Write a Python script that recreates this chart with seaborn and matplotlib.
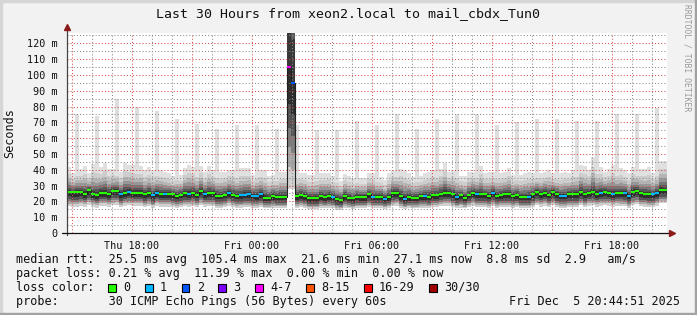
import numpy as np
import pandas as pd
import seaborn as sns
import matplotlib
matplotlib.use("Agg")
import matplotlib.pyplot as plt
import matplotlib.dates as mdates
from matplotlib.ticker import MultipleLocator, FuncFormatter
from matplotlib.patches import Rectangle
from matplotlib.lines import Line2D
from datetime import datetime, timedelta

# ---------------- data ----------------
title = "Last 30 Hours from xeon2.local to mail_cbdx_Tun0"
end_time = datetime(2025, 12, 5, 20, 44, 51)
span_hours = 30
step_minutes = 12

# median rtt per 12-minute step (ms)
median_ms = [
    25.7, 25.7, 25.7, 25.7, 24.8, 27.0, 24.6, 24.2, 25.5, 25.5,
    24.8, 26.3, 26.7, 24.4, 25.5, 26.1, 25.5, 25.5, 25.5, 24.4,
    25.3, 23.8, 25.5, 24.6, 24.8, 24.6, 24.4, 23.5, 24.2, 25.1,
    24.8, 25.3, 24.2, 26.3, 24.6, 25.1, 25.1, 23.5, 23.5, 24.2,
    25.5, 24.2, 23.5, 23.8, 24.2, 24.4, 23.5, 23.3, 24.4, 22.4,
    22.3, 23.3, 22.9, 22.9, 22.9, 105.0, 95.0, 23.3, 24.0, 23.3,
    21.9, 21.9, 21.9, 23.1, 22.7, 23.1, 22.9, 21.5, 21.0, 23.1,
    22.3, 21.9, 22.9, 22.7, 22.7, 24.4, 22.9, 22.9, 22.9, 21.7,
    22.7, 25.1, 25.5, 23.3, 21.7, 22.7, 22.3, 22.3, 23.3, 23.3,
    22.9, 24.0, 24.0, 24.8, 25.5, 25.5, 24.4, 22.9, 23.8, 22.3,
    24.2, 25.5, 24.4, 24.4, 24.4, 23.5, 25.1, 23.5, 24.0, 24.4,
    24.4, 23.5, 24.0, 22.9, 22.9, 22.9, 24.4, 25.9, 24.8, 25.5,
    24.2, 25.9, 24.4, 23.5, 23.5, 24.4, 24.4, 24.4, 25.9, 24.4,
    25.5, 25.9, 24.8, 25.5, 25.9, 25.5, 24.8, 25.5, 25.3, 25.1,
    23.5, 26.1, 26.7, 25.1, 24.8, 24.4, 24.4, 25.5, 27.2, 27.1,
]

# loss class per step (index into loss_labels)
loss_class = [
    0, 0, 0, 0, 0, 0, 0, 0, 0, 0,
    0, 0, 0, 1, 0, 1, 0, 0, 0, 0,
    0, 1, 1, 0, 1, 0, 0, 0, 0, 0,
    1, 0, 0, 0, 1, 0, 0, 0, 0, 0,
    1, 0, 0, 1, 1, 1, 1, 1, 1, 0,
    0, 0, 0, 0, 0, 4, 2, 0, 0, 0,
    0, 0, 0, 0, 0, 0, 1, 0, 0, 0,
    0, 0, 0, 0, 0, 0, 1, 0, 0, 1,
    0, 0, 0, 0, 1, 0, 0, 0, 0, 1,
    0, 0, 0, 0, 0, 0, 0, 1, 0, 0,
    0, 0, 1, 0, 0, 0, 1, 0, 0, 0,
    0, 0, 0, 0, 0, 1, 0, 0, 0, 0,
    0, 0, 0, 1, 1, 0, 0, 0, 0, 0,
    0, 0, 0, 1, 0, 0, 1, 0, 0, 1,
    1, 0, 0, 0, 0, 0, 1, 1, 0, 0,
]

# upper edge of the smoke per step (ms); 400 = off scale
smoke_high = [
    41.5, 37.7, 40.0, 40.4, 42.3, 37.7, 43.6, 43.0, 41.9, 44.4,
    40.4, 40.4, 40.0, 38.7, 44.4, 43.0, 43.0, 42.0, 42.3, 39.8,
    41.5, 39.8, 40.0, 39.8, 38.7, 38.1, 36.0, 37.0, 36.6, 40.8,
    43.0, 41.9, 40.0, 42.3, 38.7, 42.3, 39.8, 39.0, 38.7, 38.7,
    39.8, 39.8, 39.0, 40.8, 40.8, 40.8, 36.6, 39.0, 39.8, 39.8,
    36.0, 36.6, 37.0, 38.7, 38.7, 400.0, 400.0, 38.0, 37.7, 37.7,
    36.6, 36.6, 37.0, 37.7, 38.1, 38.1, 36.0, 36.0, 33.1, 37.2,
    36.0, 34.5, 35.0, 34.5, 34.5, 37.7, 37.7, 36.0, 35.2, 33.5,
    37.7, 39.4, 39.0, 40.6, 39.8, 37.7, 35.2, 36.0, 36.0, 37.7,
    38.7, 39.8, 39.0, 40.6, 44.4, 38.7, 39.8, 39.0, 36.0, 36.0,
    38.7, 38.7, 39.0, 42.3, 37.7, 38.7, 38.7, 38.0, 38.1, 38.7,
    40.8, 36.6, 37.0, 36.6, 37.7, 38.7, 38.1, 38.0, 37.7, 38.7,
    39.8, 37.7, 38.0, 37.7, 38.7, 38.1, 39.4, 40.0, 43.0, 42.3,
    39.8, 48.2, 42.0, 41.9, 38.7, 40.2, 43.0, 40.0, 40.8, 39.8,
    37.7, 41.9, 40.0, 40.2, 40.2, 41.5, 37.7, 40.0, 45.6, 45.6,
]

# lower edge of the smoke per step (ms)
smoke_low = [
    17.0, 16.6, 16.6, 17.2, 16.6, 17.7, 16.6, 16.0, 17.2, 17.2,
    16.6, 17.7, 17.7, 16.6, 17.2, 17.7, 17.2, 17.2, 17.2, 16.6,
    17.2, 16.0, 17.2, 16.6, 16.6, 16.6, 16.6, 16.0, 16.6, 17.2,
    16.6, 17.2, 16.6, 17.7, 16.6, 17.2, 17.2, 16.0, 16.0, 16.6,
    17.2, 16.6, 16.0, 16.0, 16.6, 16.6, 16.0, 16.0, 16.6, 15.5,
    15.5, 16.0, 15.5, 15.5, 15.5, 28.0, 28.0, 16.0, 16.6, 16.0,
    15.0, 15.0, 15.0, 16.0, 15.5, 16.0, 15.5, 14.5, 14.5, 16.0,
    15.5, 15.0, 15.5, 15.5, 15.5, 16.6, 15.5, 15.5, 15.5, 15.0,
    15.5, 17.2, 17.2, 16.0, 15.0, 15.5, 15.5, 15.5, 16.0, 16.0,
    15.5, 16.6, 16.6, 17.2, 17.2, 17.2, 16.6, 15.5, 16.0, 15.5,
    16.6, 17.2, 16.6, 16.6, 16.6, 16.0, 17.2, 16.0, 16.6, 16.6,
    16.6, 16.0, 16.6, 15.5, 15.5, 15.5, 16.6, 17.7, 16.6, 17.2,
    16.6, 17.7, 16.6, 16.0, 16.0, 16.6, 16.6, 16.6, 17.7, 16.6,
    17.2, 17.7, 16.6, 17.2, 17.7, 17.2, 16.6, 17.2, 17.2, 17.2,
    16.0, 17.7, 18.3, 17.2, 16.6, 16.6, 16.6, 17.2, 18.8, 18.8,
]

# hourly max ping (ms), one per hour, in the third step of each hour
hourly_peak_ms = [75, 74, 85, 80, 77, 72, 69, 66, 68, 68,
                  66, 68, 65, 65, 71, 68, 75, 66, 72, 75,
                  75, 68, 70, 72, 72, 71, 71, 75, 75, 79]

loss_labels = ["0", "1", "2", "3", "4-7", "8-15", "16-29", "30/30"]
loss_colors = ["#26ff00", "#00b8ff", "#0059ff", "#7e00ff",
               "#ff00ff", "#ff5500", "#ff0000", "#a10000"]

rtt_stats = [25.5, 105.4, 21.6, 27.1, 8.8]
rtt_am_s = 2.9
loss_stats = [0.21, 11.39, 0.00, 0.00]
probe_text = "30 ICMP Echo Pings (56 Bytes) every 60s"
stamp_text = "Fri Dec  5 20:44:51 2025"

# ---------------- figure ----------------
W, H, DPI = 697, 315, 100
sns.set_style("white")
plt.rcParams["font.family"] = ["DejaVu Sans Mono"]
plt.rcParams["axes.unicode_minus"] = False

fig = plt.figure(figsize=(W / DPI, H / DPI), dpi=DPI, facecolor="#f2f2f2")

def fx(px):
    return px / W

def fy(py):
    return 1 - py / H

# frame
fig.patches.append(Rectangle((0, 0), fx(2), 1, transform=fig.transFigure, color="#d6d6d6", zorder=0))
fig.patches.append(Rectangle((0, 1 - 2 / H), 1, 2 / H, transform=fig.transFigure, color="#d6d6d6", zorder=0))
fig.patches.append(Rectangle((1 - 2 / W, 0), 2 / W, 1, transform=fig.transFigure, color="#a2a2a2", zorder=0))
fig.patches.append(Rectangle((0, 0), 1, 2 / H, transform=fig.transFigure, color="#a2a2a2", zorder=0))

ax_l, ax_r, ax_t, ax_b = 67, 667, 33, 233
ax = fig.add_axes([fx(ax_l), 1 - ax_b / H, (ax_r - ax_l) / W, (ax_b - ax_t) / H])
ax.set_facecolor("white")

start_time = end_time - timedelta(hours=span_hours)
n = len(median_ms)
bin_starts = [start_time + timedelta(minutes=step_minutes * i) for i in range(n)]
x0 = mdates.date2num(bin_starts)
w = step_minutes / (24 * 60)
xs = np.append(x0, x0[-1] + w)

def ext(a):
    return np.append(a, a[-1])

med = np.array(median_ms)
hi = np.array(smoke_high)
lo = np.array(smoke_low)

# smoke above the median
above_f = [0, 0.09, 0.18, 0.28, 0.40, 0.54, 0.72, 1.0]
above_c = ["#383838", "#575757", "#777777", "#979797", "#b4b4b4", "#cdcdcd", "#e0e0e0"]
for f0, f1, c in zip(above_f[:-1], above_f[1:], above_c):
    b = med + f0 * (hi - med)
    t = med + f1 * (hi - med)
    ax.fill_between(xs, ext(b), ext(t), step="post", color=c, linewidth=0, zorder=1)

# smoke below the median
below_f = [0, 0.30, 0.50, 0.66, 0.82, 1.0]
below_c = ["#2e2e2e", "#535353", "#7c7c7c", "#a8a8a8", "#d0d0d0"]
for f0, f1, c in zip(below_f[:-1], below_f[1:], below_c):
    t = med - f0 * (med - lo)
    b = med - f1 * (med - lo)
    ax.fill_between(xs, ext(b), ext(t), step="post", color=c, linewidth=0, zorder=1)

# hourly peaks
peak_idx = np.array([2 + 5 * k for k in range(len(hourly_peak_ms))])
peaks = np.array(hourly_peak_ms, dtype=float)
ax.bar(x0[peak_idx], peaks - hi[peak_idx], bottom=hi[peak_idx], width=w, align="edge",
       color="#dedede", linewidth=0, zorder=1)

# median line: dark step line, then loss-coloured segments
sns.lineplot(x=list(xs), y=list(ext(med)), ax=ax, drawstyle="steps-post", color="#202020",
             linewidth=0.8, estimator=None, sort=False, zorder=4)
ax.hlines(med, x0, x0 + w, colors=[loss_colors[c] for c in loss_class],
          linewidth=1.5, zorder=5)

ax.set_xlim(mdates.date2num(start_time), mdates.date2num(end_time))
ax.set_ylim(0, 126.5)
ax.set_xlabel("")
ax.set_ylabel("")

# grid & ticks
ax.yaxis.set_major_locator(MultipleLocator(10))
ax.yaxis.set_minor_locator(MultipleLocator(5))
ax.xaxis.set_major_locator(mdates.HourLocator(byhour=range(0, 24, 3)))
ax.xaxis.set_minor_locator(mdates.HourLocator(interval=1))

def xfmt(v, pos):
    d = mdates.num2date(v)
    return d.strftime("%a %H:%M") if d.hour % 6 == 0 else ""

def yfmt(v, pos):
    return "0" if abs(v) < 1e-9 else f"{v:g} m"

ax.xaxis.set_major_formatter(FuncFormatter(xfmt))
ax.yaxis.set_major_formatter(FuncFormatter(yfmt))
ax.set_axisbelow(False)
ax.grid(which="major", color=(0.85, 0.3, 0.3, 0.32), linestyle=(0, (1, 2)), linewidth=0.75)
ax.grid(which="minor", color=(0.55, 0.55, 0.55, 0.3), linestyle=(0, (1, 2)), linewidth=0.75)
ax.tick_params(axis="both", which="both", length=2.2, width=0.75, color="#555555",
               direction="out", labelsize=7.3, labelcolor="#111111")
ax.tick_params(axis="x", pad=3.5)
ax.tick_params(axis="y", pad=4.5)
for s in ax.spines.values():
    s.set_visible(False)

# axes lines with arrows
ax.add_line(Line2D([0, 0], [-0.012, 1.03], transform=ax.transAxes, color="#444444",
                   linewidth=0.9, clip_on=False, zorder=6))
ax.add_line(Line2D([-0.008, 1.005], [0, 0], transform=ax.transAxes, color="#111111",
                   linewidth=0.9, clip_on=False, zorder=6))
ax.plot([0], [1.03], marker="^", markersize=4.5, color="#8b1a1a", transform=ax.transAxes,
        clip_on=False, zorder=7)
ax.plot([1.008], [0], marker=">", markersize=4.5, color="#8b1a1a", transform=ax.transAxes,
        clip_on=False, zorder=7)

# texts
fig.text(fx(348), fy(13.5), title, ha="center", va="center", fontsize=9.5, color="#111111")
fig.text(fx(10), fy(133), "Seconds", rotation=90, ha="center", va="center", fontsize=8.5,
         color="#111111")
fig.text(fx(687), fy(58), "RRDTOOL / TOBI OETIKER", rotation=270, ha="center", va="center",
         fontsize=5.8, color="#9a9a9a")

lx = 16
lfs = 8.5
line1 = ("median rtt:  {:.1f} ms avg  {:.1f} ms max  {:.1f} ms min  {:.1f} ms now  "
         "{:.1f} ms sd  {:.1f}   am/s").format(*rtt_stats, rtt_am_s)
line2 = "packet loss: {:.2f} % avg  {:.2f} % max  {:.2f} % min  {:.2f} % now".format(*loss_stats)
fig.text(fx(lx), fy(259.5), line1, ha="left", va="center", fontsize=lfs, color="#111111")
fig.text(fx(lx), fy(273.5), line2, ha="left", va="center", fontsize=lfs, color="#111111")
fig.text(fx(lx), fy(287.5), "loss color:", ha="left", va="center", fontsize=lfs, color="#111111")
fig.text(fx(lx), fy(301.5), "probe:       " + probe_text, ha="left", va="center", fontsize=lfs,
         color="#111111")
fig.text(fx(680), fy(301.5), stamp_text, ha="right", va="center", fontsize=lfs, color="#111111")

cw = 7.1
bx = 108.3
for lab, col in zip(loss_labels, loss_colors):
    fig.patches.append(Rectangle((fx(bx), fy(291.5)), 7.5 / W, 7.5 / H, transform=fig.transFigure,
                                 facecolor=col, edgecolor="black", linewidth=0.8, zorder=3))
    fig.text(fx(bx + 15), fy(287.5), lab, ha="left", va="center", fontsize=lfs, color="#111111")
    bx = bx + 15 + len(lab) * cw + 14.6

fig.savefig("out.png", dpi=DPI, facecolor=fig.get_facecolor())
